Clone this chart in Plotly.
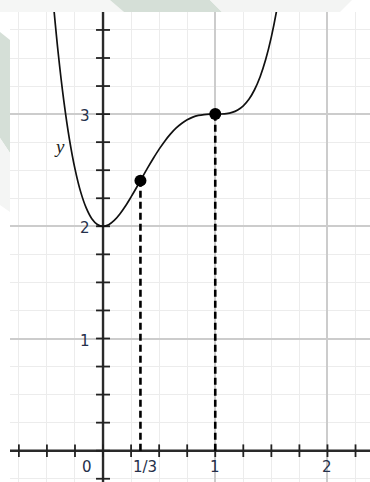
import plotly.graph_objects as go

# Curve samples y(x)
curve_x = [-0.45, -0.40, -0.35, -0.30, -0.25, -0.20, -0.15, -0.10, -0.05, 0.00,
           0.05, 0.10, 0.15, 0.20, 0.25, 0.30, 0.35, 0.40, 0.45, 0.50,
           0.55, 0.60, 0.65, 0.70, 0.75, 0.80, 0.85, 0.90, 0.95, 1.00,
           1.05, 1.10, 1.15, 1.20, 1.25, 1.30, 1.35, 1.40, 1.45, 1.50, 1.55, 1.60]
curve_y = [4.067, 3.549, 3.123, 2.780, 2.512, 2.309, 2.164, 2.068, 2.016, 2.000,
           2.014, 2.052, 2.110, 2.181, 2.262, 2.348, 2.437, 2.525, 2.609, 2.688,
           2.759, 2.821, 2.874, 2.916, 2.949, 2.973, 2.988, 2.996, 2.9995, 3.000,
           3.0005, 3.004, 3.015, 3.037, 3.074, 3.132, 3.217, 3.333, 3.488, 3.688, 3.940, 4.253]

# Marked points with dashed drop lines
point_x = [1 / 3, 1.0]
point_y = [2.407, 3.000]

# Axis labels drawn next to the axes
x_label_vals = [0, 1 / 3, 1, 2]
x_label_text = ["0", "1/3", "1", "2"]
x_label_shift = [-16, 5, 0, 0]
y_label_vals = [1, 2, 3]
y_label_text = ["1", "2", "3"]

# Small tick marks every quarter unit on both axes
x_ticks = [k * 0.25 for k in range(-3, 10)]
y_ticks = [k * 0.25 for k in range(-1, 16)]

X_RANGE = [-0.829, 2.379]
Y_RANGE = [-0.279, 3.910]

fig = go.Figure()

# axis lines through the origin
fig.add_trace(go.Scatter(
    x=X_RANGE, y=[0, 0], mode="lines", hoverinfo="skip",
    line=dict(color="#2a2a2a", width=2.4),
))
fig.add_trace(go.Scatter(
    x=[0, 0], y=Y_RANGE, mode="lines", hoverinfo="skip",
    line=dict(color="#2a2a2a", width=2.4),
))

# tick marks on the axes
fig.add_trace(go.Scatter(
    x=x_ticks, y=[0] * len(x_ticks), mode="markers", hoverinfo="skip",
    marker=dict(symbol="line-ns", size=9, line=dict(color="#222", width=1.8)),
))
fig.add_trace(go.Scatter(
    x=[0] * len(y_ticks), y=y_ticks, mode="markers", hoverinfo="skip",
    marker=dict(symbol="line-ew", size=10, line=dict(color="#222", width=1.8)),
))

# dashed drop lines from each marked point to the x-axis
for px_, py_ in zip(point_x, point_y):
    fig.add_trace(go.Scatter(
        x=[px_, px_], y=[0, py_], mode="lines", hoverinfo="skip",
        line=dict(color="black", width=2.6, dash="7px,4px"),
    ))

# the curve
fig.add_trace(go.Scatter(
    x=curve_x, y=curve_y, mode="lines", line_shape="spline",
    line=dict(color="#111", width=1.7, smoothing=1), hoverinfo="skip",
))

# marked points
fig.add_trace(go.Scatter(
    x=point_x, y=point_y, mode="markers", hoverinfo="skip",
    marker=dict(color="black", size=12),
))

label_font = dict(family="DejaVu Sans, Liberation Sans, sans-serif", size=15, color="#25304a")
annotations = []
for v, t, s in zip(x_label_vals, x_label_text, x_label_shift):
    annotations.append(dict(x=v, y=0, text=t, showarrow=False, xshift=s, yshift=-16,
                            xanchor="center", yanchor="middle", font=label_font))
for v, t in zip(y_label_vals, y_label_text):
    annotations.append(dict(x=0, y=v, text=t, showarrow=False, xshift=-18, yshift=-2,
                            xanchor="center", yanchor="middle", font=label_font))
annotations.append(dict(x=-0.385, y=2.71, text="<i>y</i>", showarrow=False,
                        xanchor="center", yanchor="middle",
                        font=dict(family="Liberation Serif, Times New Roman, serif",
                                  size=19, color="#222")))


def pp(px, py):
    # page pixel -> paper coordinates
    return (px - 10) / 360, (482 - py) / 470


def poly(points, color):
    pts = [pp(a, b) for a, b in points]
    path = "M " + " L ".join(f"{a:.4f},{b:.4f}" for a, b in pts) + " Z"
    return dict(type="path", xref="paper", yref="paper", path=path,
                fillcolor=color, line=dict(width=0), layer="below")


shapes = [
    poly([(0, 0), (110, 0), (124, 12), (0, 12)], "#f5f6f5"),
    poly([(110, 0), (210, 0), (222, 12), (124, 12)], "#d5dfd7"),
    poly([(210, 0), (352, 0), (340, 12), (222, 12)], "#f3f4f3"),
    poly([(0, 32), (10, 40), (10, 153), (0, 138)], "#d5dfd7"),
    poly([(0, 138), (10, 153), (10, 212), (0, 205)], "#f4f5f4"),
]

axis_common = dict(
    showticklabels=False, ticks="", showline=False, zeroline=False,
    dtick=1, tick0=0, gridcolor="#cccccc", gridwidth=1.5,
    minor=dict(dtick=0.25, tick0=0, gridcolor="#ececec", gridwidth=1, showgrid=True),
    fixedrange=True,
)

fig.update_layout(
    width=370, height=482, autosize=False,
    margin=dict(l=10, r=0, t=12, b=0),
    paper_bgcolor="white", plot_bgcolor="white",
    showlegend=False,
    xaxis=dict(range=X_RANGE, **axis_common),
    yaxis=dict(range=Y_RANGE, **axis_common),
    annotations=annotations,
    shapes=shapes,
)

fig.write_html("out.html", config=dict(displayModeBar=False))
